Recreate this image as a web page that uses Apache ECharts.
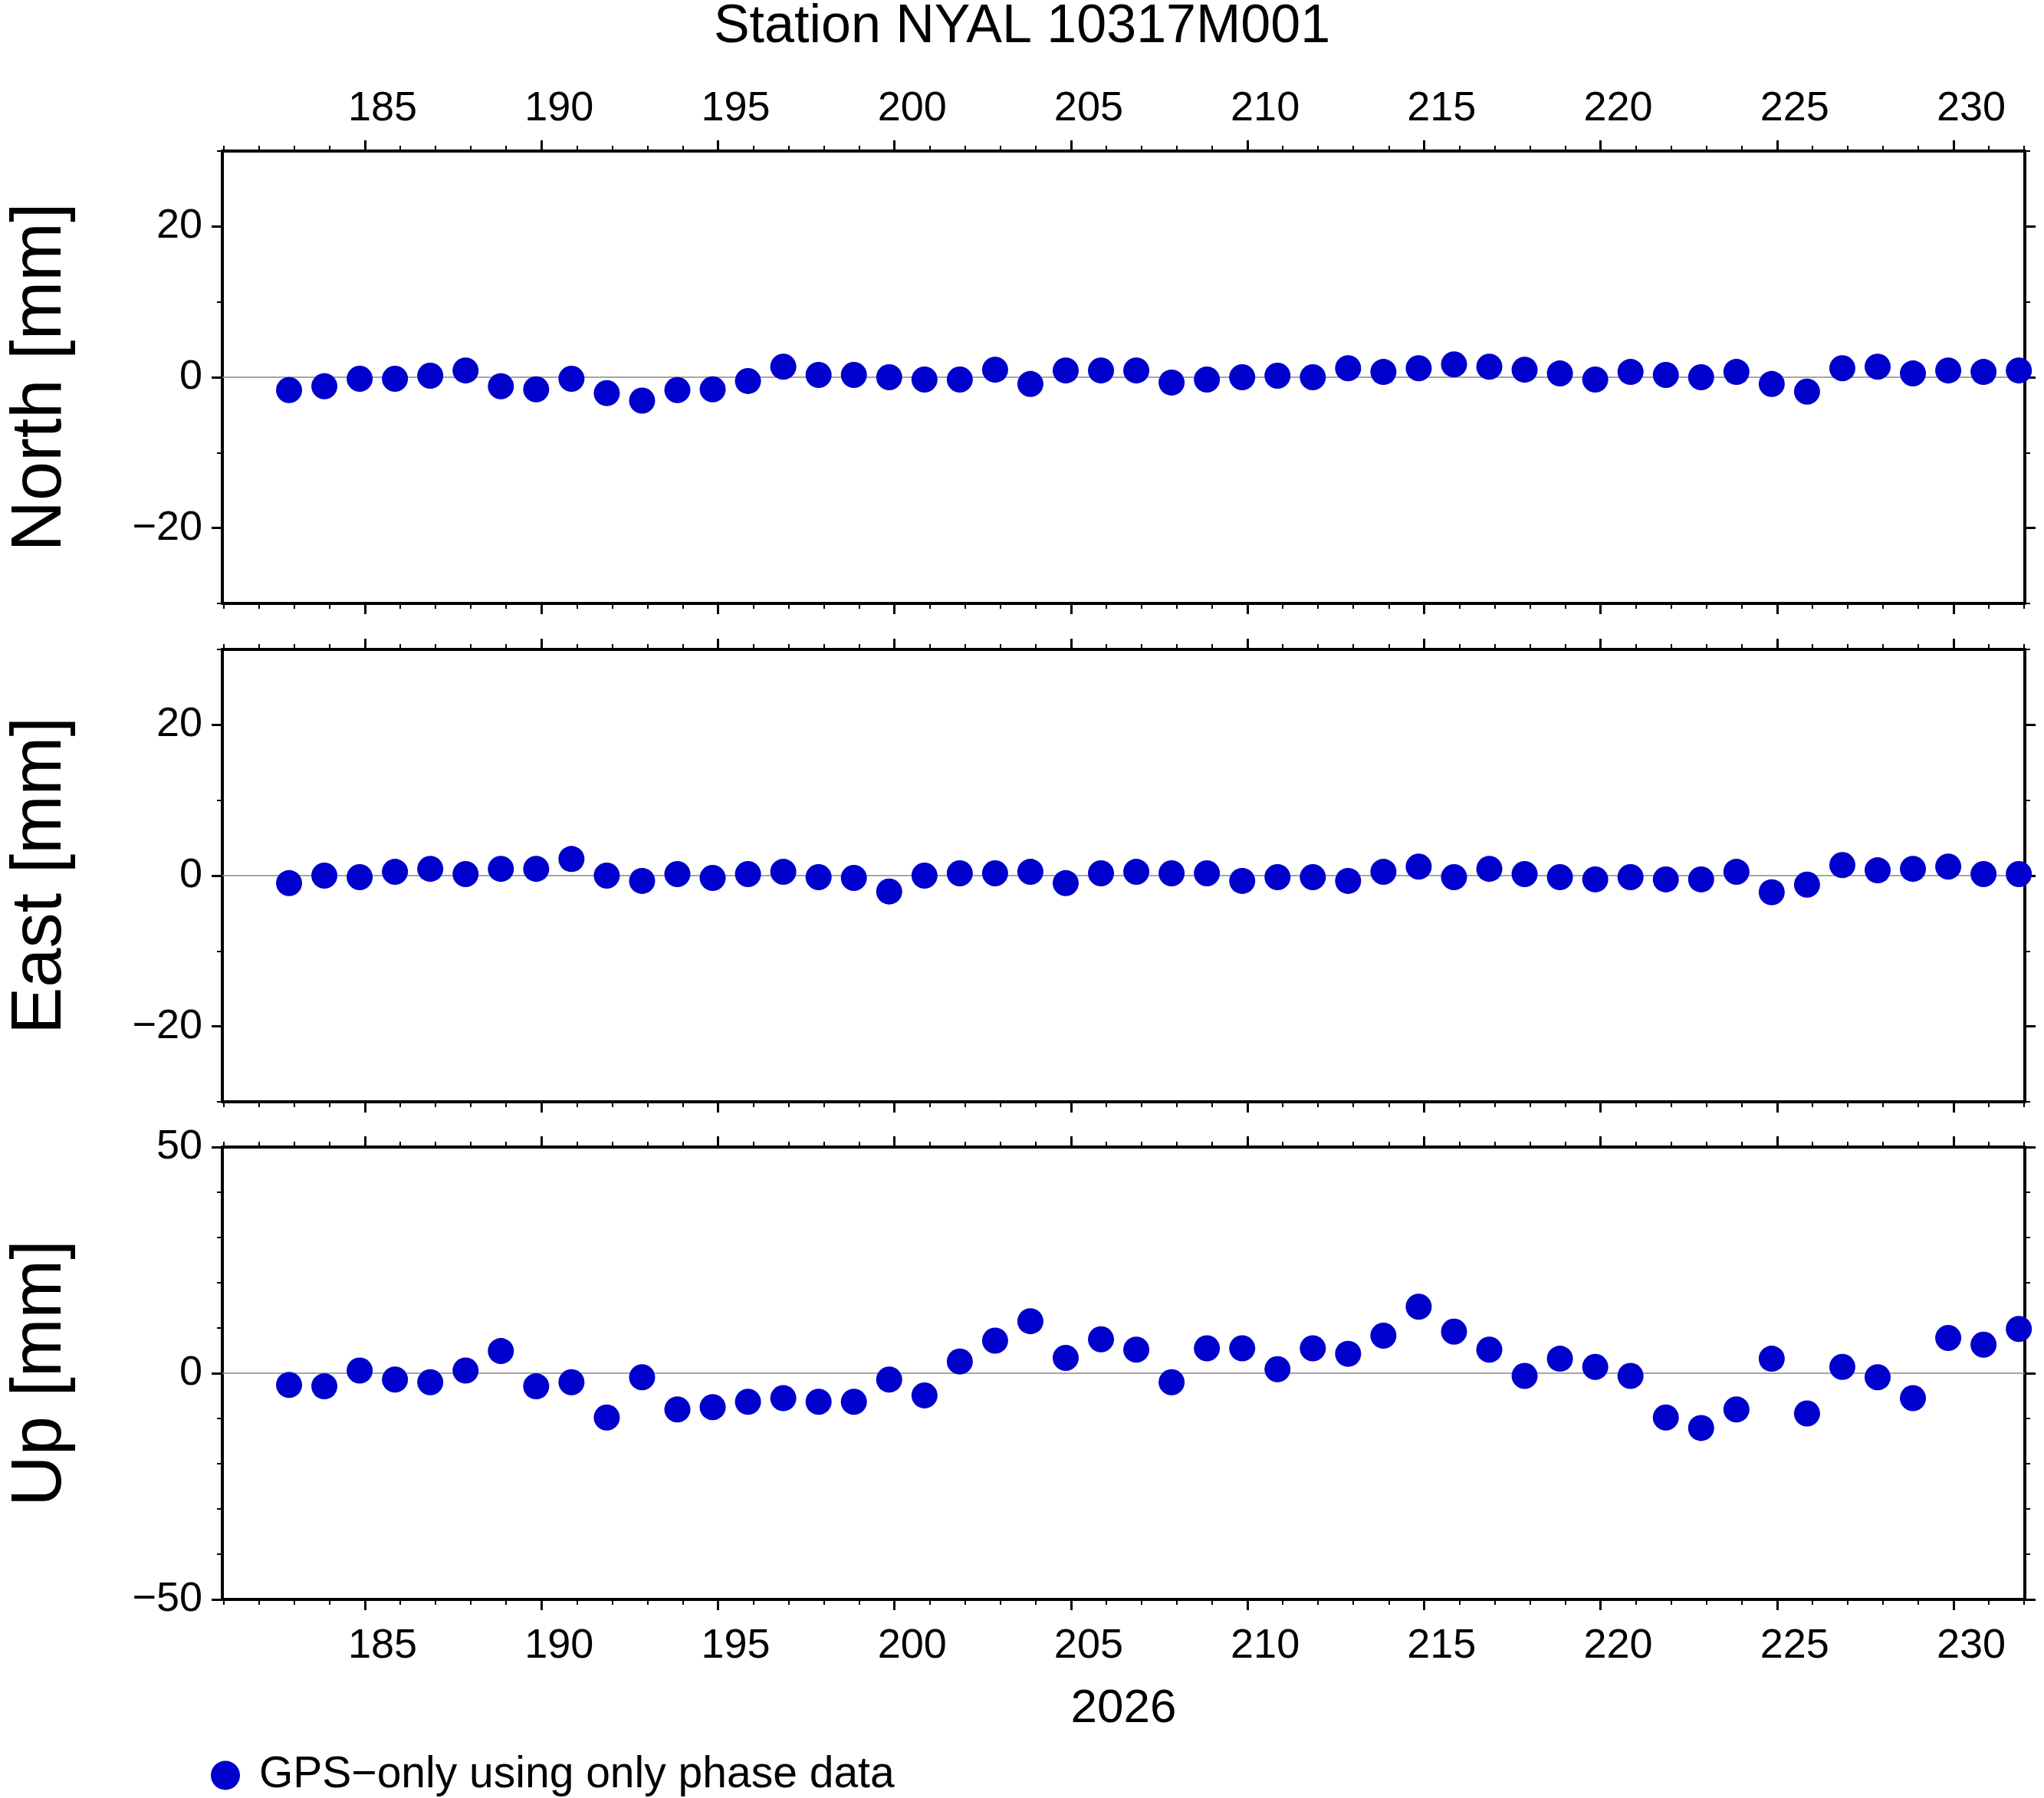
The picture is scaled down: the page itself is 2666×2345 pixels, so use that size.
<!DOCTYPE html>
<html><head><meta charset="utf-8">
<script src="https://cdn.jsdelivr.net/npm/echarts@6/dist/echarts.min.js"></script>
<style>html,body{margin:0;padding:0;background:#fff}#c{width:2666px;height:2345px}</style>
</head><body><div id="c"></div>
<script>
const days = [];
for (let d = 183; d <= 232; d++) days.push(d);
const north = [-1.7,-1.2,-0.2,-0.2,0.2,0.9,-1.2,-1.6,-0.2,-2.1,-3.1,-1.7,-1.6,-0.5,1.4,0.3,0.3,0,-0.3,-0.3,1,-0.9,0.9,0.9,0.9,-0.7,-0.3,0,0.2,0,1.2,0.7,1.2,1.7,1.4,1,0.5,-0.3,0.7,0.3,0,0.7,-0.9,-1.9,1.2,1.4,0.5,0.9,0.7,0.9];
const east = [-1,0,-0.2,0.5,0.9,0.2,0.9,0.9,2.2,0,-0.7,0.2,-0.3,0.2,0.5,-0.2,-0.3,-2.1,0,0.3,0.3,0.5,-1,0.3,0.5,0.3,0.3,-0.7,-0.2,-0.2,-0.7,0.5,1.2,-0.2,0.9,0.2,-0.2,-0.5,-0.2,-0.5,-0.5,0.5,-2.2,-1.2,1.4,0.7,0.9,1.2,0.2,0.2];
const up = [-2.6,-2.9,0.6,-1.4,-2,0.6,4.9,-2.9,-2,-9.8,-0.9,-8,-7.5,-6.3,-5.5,-6.3,-6.3,-1.4,-4.9,2.6,7.2,11.5,3.4,7.5,5.2,-2,5.5,5.5,0.9,5.5,4.3,8.3,14.7,9.2,5.2,-0.6,3.2,1.4,-0.6,-9.8,-12.1,-8,3.2,-8.9,1.4,-0.9,-5.5,7.8,6.3,9.8];
const panelNames = ['North [mm]','East [mm]','Up [mm]'];
const yRanges = [[-30,30],[-30,30],[-50,50]];
const yLabelVals = [[-20,0,20],[-20,0,20],[-50,0,50]];
const xMajor = [185,190,195,200,205,210,215,220,225,230];
const xMin = 180.96, xMax = 232.02;

const F = 'Liberation Sans, Arial, sans-serif';
const tops = [197, 847, 1496], H = 590, L = 277, W = 2364;
const grids = [], xAxes = [], yAxes = [], series = [];
const allX = []; for (let d = 181; d <= 232; d++) allX.push(d);
const minus = v => String(v).replace('-', '\u2212');
const datas = [north, east, up];
for (let i = 0; i < 3; i++) {
  grids.push({left: L, top: tops[i], width: W, height: H});
  const line = {show: true, onZero: false, lineStyle: {color: '#000', width: 4}};
  const base = pos => ({type: 'value', gridIndex: i, position: pos, min: xMin, max: xMax, splitLine: {show: false}});
  const xi = xAxes.length;
  ['bottom','top'].forEach(pos => {
    const showLab = (pos === 'top' && i === 0) || (pos === 'bottom' && i === 2);
    xAxes.push(Object.assign(base(pos), {
      axisLine: line,
      axisTick: {show: true, length: 14, lineStyle: {color: '#000', width: 3}, customValues: xMajor},
      axisLabel: {show: showLab, customValues: xMajor.map(v => v + 0.5), formatter: v => String(Math.floor(v)),
        fontSize: 54, color: '#000', fontFamily: F, margin: pos === 'top' ? 28 : 34},
      name: (pos === 'bottom' && i === 2) ? '2026' : '', nameLocation: 'middle', nameGap: 112,
      nameTextStyle: {fontSize: 62, color: '#000', fontFamily: F}
    }));
    xAxes.push(Object.assign(base(pos), {
      axisLine: {show: false, onZero: false},
      axisTick: {show: true, length: 7, lineStyle: {color: '#000', width: 2}, customValues: allX},
      axisLabel: {show: false}
    }));
  });
  const [ymin, ymax] = yRanges[i];
  const allY = []; for (let v = ymin; v <= ymax; v += 10) allY.push(v);
  const yi = yAxes.length;
  ['left','right'].forEach(pos => {
    const ybase = {type: 'value', gridIndex: i, position: pos, min: ymin, max: ymax, splitLine: {show: false}};
    yAxes.push(Object.assign({}, ybase, {
      axisLine: line,
      axisTick: {show: true, length: 14, lineStyle: {color: '#000', width: 3}, customValues: yLabelVals[i]},
      axisLabel: {show: pos === 'left', customValues: yLabelVals[i], formatter: minus,
        fontSize: 54, color: '#000', fontFamily: F, margin: 26},
      name: pos === 'left' ? panelNames[i] : '', nameLocation: 'middle', nameGap: 190, nameRotate: 90,
      nameTextStyle: {fontSize: 92, color: '#000', fontFamily: F}
    }));
    yAxes.push(Object.assign({}, ybase, {
      axisLine: {show: false, onZero: false},
      axisTick: {show: true, length: 7, lineStyle: {color: '#000', width: 2}, customValues: allY},
      axisLabel: {show: false}
    }));
  });
  series.push({
    type: 'scatter', name: 'GPS\u2212only using only phase data',
    xAxisIndex: xi, yAxisIndex: yi, clip: false,
    symbolSize: 34, itemStyle: {color: '#0000cc', opacity: 1},
    data: days.map((d, k) => [d - 0.15, datas[i][k]]),
    markLine: {silent: true, symbol: 'none', label: {show: false},
      lineStyle: {color: '#888', width: 1.5, type: 'solid'}, data: [{yAxis: 0}], z: 1}
  });
}
const chart = echarts.init(document.getElementById('c'));
chart.setOption({
  animation: false,
  backgroundColor: '#fff',
  title: {text: 'Station NYAL 10317M001', left: 'center', top: -4,
    textStyle: {fontSize: 70, fontWeight: 'normal', color: '#000', fontFamily: F}},
  legend: {left: 270, top: 2282, icon: 'circle', itemWidth: 38, itemHeight: 38, itemGap: 20,
    data: ['GPS\u2212only using only phase data'],
    textStyle: {fontSize: 57, color: '#000', fontFamily: F, padding: [0,0,0,20]}},
  grid: grids, xAxis: xAxes, yAxis: yAxes, series: series
});
</script></body></html>
